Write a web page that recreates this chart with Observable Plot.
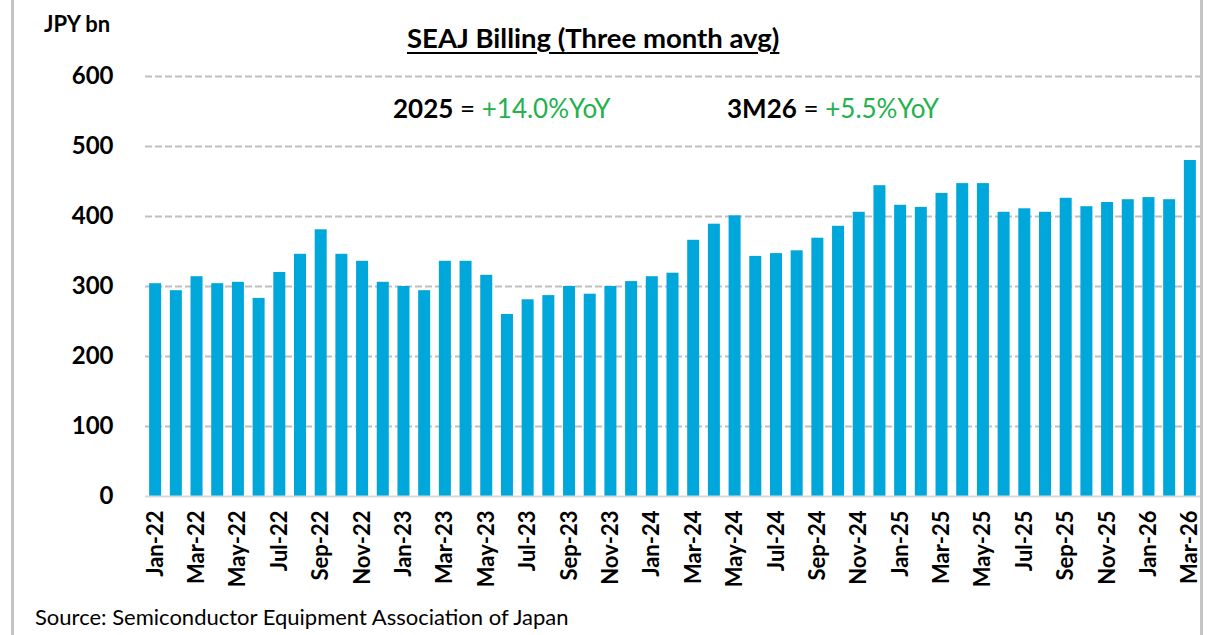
<!DOCTYPE html>
<html>
<head>
<meta charset="utf-8">
<script src="https://cdn.jsdelivr.net/npm/d3@7"></script>
<script src="https://cdn.jsdelivr.net/npm/@observablehq/plot@0.6"></script>
<style>
  html, body { margin: 0; padding: 0; background: #fff; }
  #wrap { position: relative; width: 1207px; height: 635px; overflow: hidden; font-family: Lato, "Open Sans", sans-serif; }
  #chart { position: absolute; left: 0; top: 0; }
  .t { position: absolute; white-space: nowrap; color: #000; line-height: 1; }
  .border { position: absolute; top: 0; width: 3px; height: 635px; background: #c4c4c4; }
  .g { color: #22b14c; font-weight: normal; }
</style>
</head>
<body>
<div id="wrap">
  <div class="border" style="left:11px"></div>
  <div class="border" style="left:1200px"></div>
  <div id="chart"></div>
  <div class="t" style="left:44px; top:13px; font-size:22px; font-weight:bold;">JPY bn</div>
  <div class="t" style="left:407px; top:24px; font-size:27.5px; font-weight:bold; text-decoration:underline; text-underline-offset:4px;">SEAJ Billing (Three month avg)</div>
  <div class="t" style="left:393px; top:95px; font-size:26px;"><b>2025</b> = <span class="g">+14.0%YoY</span></div>
  <div class="t" style="left:727px; top:95px; font-size:26px;"><b>3M26</b> = <span class="g">+5.5%YoY</span></div>
  <div class="t" style="left:35px; top:606px; font-size:22px;">Source: Semiconductor Equipment Association of Japan</div>
</div>
<script>
const months = [
  "Jan-22","Feb-22","Mar-22","Apr-22","May-22","Jun-22","Jul-22","Aug-22","Sep-22","Oct-22","Nov-22","Dec-22",
  "Jan-23","Feb-23","Mar-23","Apr-23","May-23","Jun-23","Jul-23","Aug-23","Sep-23","Oct-23","Nov-23","Dec-23",
  "Jan-24","Feb-24","Mar-24","Apr-24","May-24","Jun-24","Jul-24","Aug-24","Sep-24","Oct-24","Nov-24","Dec-24",
  "Jan-25","Feb-25","Mar-25","Apr-25","May-25","Jun-25","Jul-25","Aug-25","Sep-25","Oct-25","Nov-25","Dec-25",
  "Jan-26","Feb-26","Mar-26"
];
const billing = [
  304, 294, 314, 304, 306, 283, 320, 346, 381, 346, 336, 306,
  300, 294, 336, 336, 316, 260, 281, 287, 300, 289, 300, 307,
  314, 319, 366, 389, 401, 343, 347, 351, 369, 386, 406, 444,
  416, 413, 433, 447, 447, 406, 411, 406, 426, 414, 420, 424,
  427, 424, 480
];
const xTickLabels = months.filter((m, i) => i % 2 === 0);
const yTicks = [0, 100, 200, 300, 400, 500, 600];
const gridTicks = [100, 200, 300, 400, 500, 600];

const data = months.map((m, i) => ({ month: m, value: billing[i] }));

const chart = Plot.plot({
  width: 1207,
  height: 635,
  marginLeft: 145,
  marginRight: 7,
  marginTop: 76,
  marginBottom: 139,
  style: { fontFamily: "Lato, 'Open Sans', sans-serif", background: "transparent" },
  x: { type: "band", domain: months, paddingInner: 0.42, paddingOuter: 0.2, label: null },
  y: { domain: [0, 600], label: null },
  marks: [
    Plot.gridY(gridTicks, { stroke: "#bfbfbf", strokeOpacity: 1, strokeWidth: 2, strokeDasharray: "7,3" }),
    Plot.barY(data, { x: "month", y: "value", fill: "#00a7db" }),
    Plot.ruleY([0], { stroke: "#d9d9d9", strokeWidth: 2 }),
    Plot.axisY(yTicks, { tickSize: 0, tickPadding: 32, fontSize: 24, fontWeight: "bold", fill: "#000", label: null }),
    Plot.axisX(xTickLabels, { tickSize: 0, tickPadding: 14, tickRotate: -90, fontSize: 22, fontWeight: "bold", fill: "#000", label: null })
  ]
});
document.getElementById("chart").appendChild(chart);
</script>
</body>
</html>
